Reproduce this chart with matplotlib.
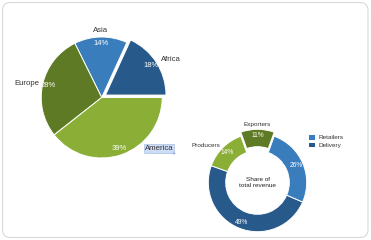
import matplotlib
matplotlib.use("Agg")
import matplotlib.pyplot as plt
from matplotlib.patches import FancyBboxPatch
import numpy as np

plt.rcParams['font.family'] = ['Liberation Sans', 'DejaVu Sans']

# left pie: share by region (drawn counter-clockwise from 3 o'clock)
regions = ["Africa", "Asia", "Europe", "America"]
region_share = [18, 14, 28, 39]
region_colors = ["#275a8a", "#3a7dbd", "#5f7a24", "#8aae36"]

# donut: share of total revenue
stages = ["Exporters", "Producers", "Delivery", "Retailers"]
stage_share = [11, 14, 49, 26]
stage_colors = ["#5f7a24", "#8aae36", "#275a8a", "#3a7dbd"]
legend_stages = ["Retailers", "Delivery"]

W, H = 371, 240
fig = plt.figure(figsize=(W / 100, H / 100), dpi=100)
ax = fig.add_axes([0, 0, 1, 1])

# rounded card border
ax.add_patch(FancyBboxPatch((2.5, 2.5), 365.5, 235, boxstyle="round,pad=0,rounding_size=8",
                            fc="white", ec="#d9d9d9", lw=0.8, zorder=0))


def mid_angle(w):
    return np.deg2rad((w.theta1 + w.theta2) / 2)


def put(w, text, dist, nudge=0.0, **kw):
    a = mid_angle(w) + np.deg2rad(nudge)
    cx, cy = w.center
    x = cx + dist * w.r * np.cos(a)
    y = cy + dist * w.r * np.sin(a)
    if "ha" not in kw:
        c = np.cos(a)
        kw["ha"] = "center" if abs(c) < 0.2 else ("left" if c > 0 else "right")
    return ax.text(x, y, text, va="center", **kw)


# ---- region pie ----
wedges1, _ = ax.pie(region_share, colors=region_colors, startangle=0,
                    center=(101.7, 142.5), radius=60.5, explode=[4.5, 0, 0, 0],
                    wedgeprops=dict(edgecolor="white", linewidth=0.7))
for w, name, v in zip(wedges1, regions, region_share):
    put(w, f"{v}%", 0.9, ha="center", color="white", fontsize=5.5)
    if name == "America":
        put(w, name, 1.1, nudge=21, color="#333333", fontsize=5.6,
            bbox=dict(boxstyle="square,pad=0.1", fc="#cddcf3", ec="#9bb5df", lw=0.4))
    else:
        put(w, name, 1.1 if name != "Europe" else 1.05, color="#333333", fontsize=5.6)
ax.text(174, 85.5, "+", color="#7a9ad8", fontsize=5, ha="center", va="center")

# ---- revenue donut ----
wedges2, _ = ax.pie(stage_share, colors=stage_colors, startangle=70.2,
                    center=(257.5, 57.5), radius=49.2, explode=[4, 0, 0, 0],
                    wedgeprops=dict(width=17.4, edgecolor="white", linewidth=0.7))
for w, name, v in zip(wedges2, stages, stage_share):
    put(w, f"{v}%", 0.87, ha="center", color="white", fontsize=4.8)
    if name not in legend_stages:
        put(w, name, 1.1 if name == "Exporters" else 1.06, color="#333333", fontsize=4.6)
ax.text(257.5, 57.5, "Share of\ntotal revenue", ha="center", va="center",
        fontsize=4.6, color="#222222", linespacing=1.2)

handles = [wedges2[stages.index(s)] for s in legend_stages]
ax.legend(handles, legend_stages, loc="upper left", bbox_to_anchor=(0.83, 0.44),
          bbox_transform=fig.transFigure, frameon=False, fontsize=4.6,
          handlelength=1.1, handleheight=0.9, handletextpad=0.5, labelspacing=0.3,
          borderpad=0, borderaxespad=0, labelcolor="#333333")

ax.set_xlim(0, W)
ax.set_ylim(0, H)
ax.axis("off")

fig.savefig("out.png", dpi=100)
